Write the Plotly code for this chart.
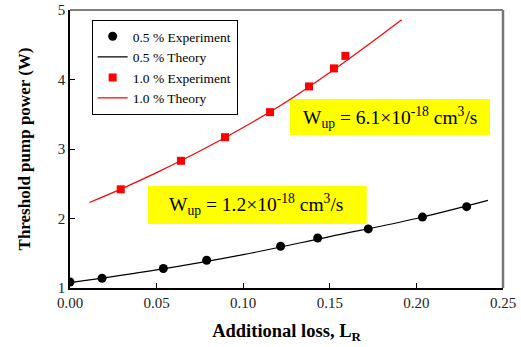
import plotly.graph_objects as go

# 0.5 % doping: experiment
exp05_x = [0.000, 0.0185, 0.0539, 0.0789, 0.1216, 0.1430, 0.1722, 0.2035, 0.2290]
exp05_y = [1.086, 1.14, 1.28, 1.40, 1.60, 1.72, 1.85, 2.02, 2.17]
# 0.5 % doping: theory curve
th05_x = [0.000, 0.050, 0.100, 0.150, 0.200, 0.2413]
th05_y = [1.076, 1.26, 1.48, 1.74, 2.00, 2.26]

# 1.0 % doping: experiment
exp10_x = [0.0293, 0.0641, 0.0895, 0.1155, 0.1380, 0.1524, 0.1590]
exp10_y = [2.42, 2.83, 3.17, 3.53, 3.90, 4.16, 4.34]
# 1.0 % doping: theory curve
th10_x = [0.0112, 0.030, 0.050, 0.075, 0.100, 0.125, 0.150, 0.170, 0.1915]
th10_y = [2.23, 2.43, 2.66, 2.97, 3.31, 3.68, 4.10, 4.46, 4.86]

x_ticks = [0.00, 0.05, 0.10, 0.15, 0.20, 0.25]
y_ticks = [1, 2, 3, 4, 5]

FONT = "Liberation Serif, Times New Roman, serif"

fig = go.Figure()
fig.add_trace(go.Scatter(x=exp05_x, y=exp05_y, mode="markers", name="0.5 % Experiment",
                         marker=dict(symbol="circle", size=9, color="black")))
fig.add_trace(go.Scatter(x=th05_x, y=th05_y, mode="lines", name="0.5 % Theory",
                         line=dict(color="black", width=1.2, shape="spline")))
fig.add_trace(go.Scatter(x=exp10_x, y=exp10_y, mode="markers", name="1.0 % Experiment",
                         marker=dict(symbol="square", size=8, color="#ff0000")))
fig.add_trace(go.Scatter(x=th10_x, y=th10_y, mode="lines", name="1.0 % Theory",
                         line=dict(color="#ff0000", width=1.2, shape="spline")))

# yellow annotation boxes
fig.add_shape(type="rect", xref="x", yref="y", x0=0.127, x1=0.2425, y0=3.20, y1=3.72,
              fillcolor="#ffff00", line=dict(width=0), layer="below")
fig.add_shape(type="rect", xref="x", yref="y", x0=0.045, x1=0.1713, y0=1.92, y1=2.47,
              fillcolor="#ffff00", line=dict(width=0), layer="below")
fig.add_annotation(x=0.1845, y=3.46, xref="x", yref="y", showarrow=False,
                   text="W<sub>up</sub> = 6.1×10<sup>-18</sup> cm<sup>3</sup>/s",
                   font=dict(family=FONT, size=19.5, color="black"))
fig.add_annotation(x=0.1075, y=2.195, xref="x", yref="y", showarrow=False,
                   text="W<sub>up</sub> = 1.2×10<sup>-18</sup> cm<sup>3</sup>/s",
                   font=dict(family=FONT, size=19.5, color="black"))

# top and right frame (grey)
fig.add_shape(type="line", xref="paper", yref="paper", x0=0, x1=1, y0=1, y1=1,
              line=dict(color="#555555", width=1.5))
fig.add_shape(type="line", xref="paper", yref="paper", x0=1, x1=1, y0=0, y1=1,
              line=dict(color="#777777", width=2.5))

fig.update_layout(
    width=521, height=347,
    margin=dict(l=70, r=18, t=10, b=59, autoexpand=False),
    plot_bgcolor="white", paper_bgcolor="white",
    font=dict(family=FONT, size=14, color="black"),
    showlegend=True,
    legend=dict(x=0.05, y=0.964, xanchor="left", yanchor="top",
                bordercolor="black", borderwidth=1, bgcolor="white",
                font=dict(family=FONT, size=13.5), tracegroupgap=0,
                itemwidth=30),
    xaxis=dict(range=[0, 0.25], tickmode="array", tickvals=x_ticks, tickformat=".2f",
               ticks="inside", ticklen=5, tickcolor="black", showgrid=False,
               zeroline=False, showline=True, linecolor="black", linewidth=1.5,
               automargin=False,
               tickfont=dict(family=FONT, size=15, color="#222"),
               title=dict(text="<b>Additional loss, L<sub>R</sub></b>",
                          font=dict(family=FONT, size=18.5), standoff=14)),
    yaxis=dict(range=[1, 5], tickmode="array", tickvals=y_ticks, tickformat="d",
               ticks="inside", ticklen=5, tickcolor="black", showgrid=False,
               zeroline=False, showline=True, linecolor="black", linewidth=1.5,
               automargin=False,
               tickfont=dict(family=FONT, size=15, color="#222"),
               title=dict(text="<b>Threshold pump power (W)</b>",
                          font=dict(family=FONT, size=17), standoff=23)),
)

fig.write_html("out.html", post_script="document.body.style.margin='0';",
               config={"displayModeBar": False})
